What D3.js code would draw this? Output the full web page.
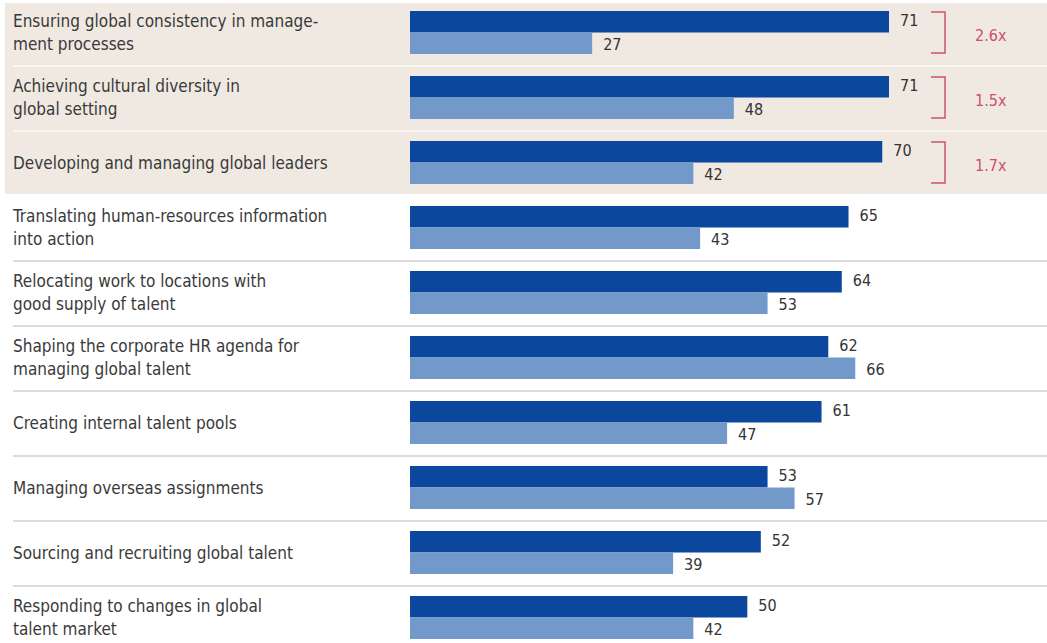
<!DOCTYPE html>
<html>
<head>
<meta charset="utf-8">
<script src="https://cdn.jsdelivr.net/npm/d3@7"></script>
<style>
    body { margin: 0; background: #fff; }
    svg text { font-family: "Liberation Sans Narrow", "DejaVu Sans Condensed", "Arial Narrow", sans-serif; }
</style>
</head>
<body>
<script>
// data
const categories = [
    ["Ensuring global consistency in manage-", "ment processes"],
    ["Achieving cultural diversity in", "global setting"],
    ["Developing and managing global leaders"],
    ["Translating human-resources information", "into action"],
    ["Relocating work to locations with", "good supply of talent"],
    ["Shaping the corporate HR agenda for", "managing global talent"],
    ["Creating internal talent pools"],
    ["Managing overseas assignments"],
    ["Sourcing and recruiting global talent"],
    ["Responding to changes in global", "talent market"]
]
const darkValues = [71, 71, 70, 65, 64, 62, 61, 53, 52, 50]
const lightValues = [27, 48, 42, 43, 53, 66, 47, 57, 39, 42]
const ratios = ["2.6x", "1.5x", "1.7x"]

const width = 1047
const height = 643

const darkColor = "#0b479c"
const lightColor = "#7299c9"
const shadeColor = "#efe9e2"
const pink = "#cc4f72"

const svg = d3.select("body").append("svg")
    .attr("width", width)
    .attr("height", height)

const rows = categories.map((c, i) => i)

const yScale = d3.scaleBand()
    .domain(rows)
    .range([1, 1 + 65 * rows.length])

const xScale = d3.scaleLinear()
    .domain([0, 71])
    .range([410, 889])

const barTop = 10
const barH = 21.5

/* shaded block behind the first three rows */
svg.append("rect")
    .attr("x", 5)
    .attr("y", 3)
    .attr("width", width - 5)
    .attr("height", yScale(2) + yScale.bandwidth() - 5)
    .attr("fill", shadeColor)

/* separators */
svg.selectAll("line.sep")
    .data(rows.filter(i => i !== 2 && i !== rows.length - 1))
    .enter()
    .append("line")
    .attr("class", "sep")
    .attr("x1", 13)
    .attr("x2", width)
    .attr("y1", i => yScale(i) + yScale.bandwidth())
    .attr("y2", i => yScale(i) + yScale.bandwidth())
    .attr("stroke", i => i < 2 ? "#f9f6f2" : "#dcdcdc")
    .attr("stroke-width", 2)

/* category labels */
const labels = svg.selectAll("text.cat")
    .data(rows)
    .enter()
    .append("text")
    .attr("class", "cat")
    .attr("x", 13)
    .attr("font-size", 17)
    .attr("fill", "#3a3a3a")

labels.each(function (i) {
    const lines = categories[i]
    const mid = yScale(i) + barTop + barH
    const t = d3.select(this)
    if (lines.length === 1) {
        t.append("tspan").attr("x", 13).attr("y", mid + 6).text(lines[0])
    } else {
        t.append("tspan").attr("x", 13).attr("y", mid - 6).text(lines[0])
        t.append("tspan").attr("x", 13).attr("y", mid + 17).text(lines[1])
    }
})

/* bars */
svg.selectAll("rect.dark")
    .data(rows)
    .enter()
    .append("rect")
    .attr("class", "dark")
    .attr("x", xScale(0))
    .attr("y", i => yScale(i) + barTop)
    .attr("width", i => xScale(darkValues[i]) - xScale(0))
    .attr("height", barH)
    .attr("fill", darkColor)

svg.selectAll("rect.light")
    .data(rows)
    .enter()
    .append("rect")
    .attr("class", "light")
    .attr("x", xScale(0))
    .attr("y", i => yScale(i) + barTop + barH)
    .attr("width", i => xScale(lightValues[i]) - xScale(0))
    .attr("height", barH)
    .attr("fill", lightColor)

/* value labels */
svg.selectAll("text.dv")
    .data(rows)
    .enter()
    .append("text")
    .attr("class", "dv")
    .attr("x", i => xScale(darkValues[i]) + 11)
    .attr("y", i => yScale(i) + barTop + barH / 2 + 4)
    .attr("font-size", 16)
    .attr("fill", "#333")
    .text(i => darkValues[i])

svg.selectAll("text.lv")
    .data(rows)
    .enter()
    .append("text")
    .attr("class", "lv")
    .attr("x", i => xScale(lightValues[i]) + 11)
    .attr("y", i => yScale(i) + barTop + barH * 1.5 + 7)
    .attr("font-size", 16)
    .attr("fill", "#333")
    .text(i => lightValues[i])

/* brackets with ratios */
const bx = 945
ratios.forEach((r, i) => {
    const top = yScale(i) + barTop + 1
    const bottom = yScale(i) + barTop + 2 * barH - 1
    svg.append("path")
        .attr("d", `M${bx - 14},${top}H${bx}V${bottom}H${bx - 14}`)
        .attr("fill", "none")
        .attr("stroke", "#c9566f")
        .attr("stroke-width", 1.5)
    svg.append("text")
        .attr("x", 975)
        .attr("y", (top + bottom) / 2 + 8)
        .attr("font-size", 16)
        .attr("fill", pink)
        .text(r)
})
</script>
</body>
</html>
